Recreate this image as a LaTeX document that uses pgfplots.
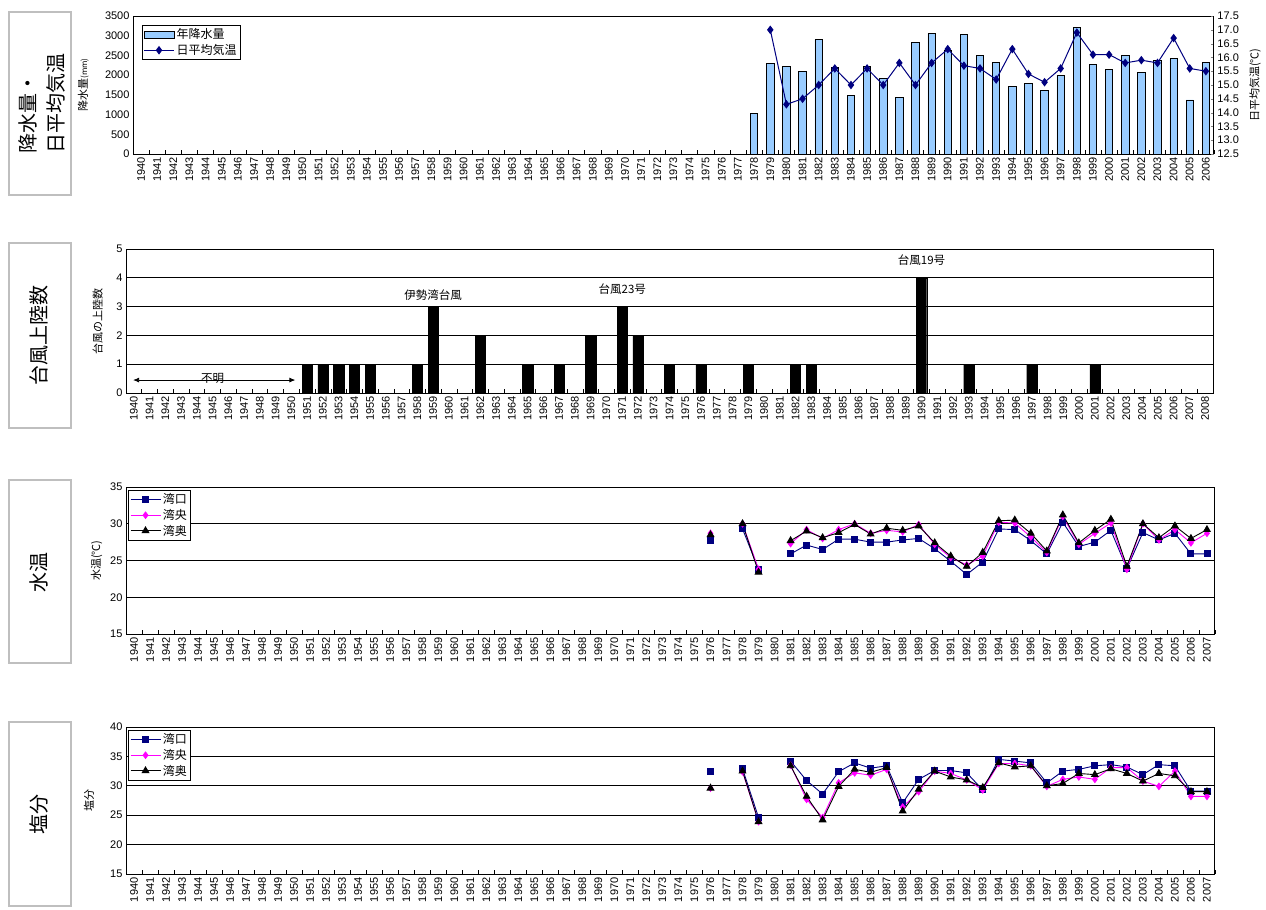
\documentclass[border=0pt]{standalone}
\usepackage{pgfplots}
\pgfplotsset{compat=1.18}
\usetikzlibrary{arrows.meta}
\usepackage{fontspec}
\setmainfont{Liberation Sans}
\newfontfamily\cjk{Noto Sans CJK JP}
\definecolor{barblue}{RGB}{153,204,255}
\definecolor{navyc}{RGB}{0,0,128}
\definecolor{magc}{RGB}{255,0,255}
\newcommand\tickfont{\fontsize{11bp}{12bp}\selectfont}
\newcommand\labfont{\fontsize{11bp}{12bp}\selectfont\cjk}
\newcommand\boxfont{\fontsize{20bp}{28bp}\selectfont\cjk}
\pgfplotsset{
  base/.style={
    scale only axis,
    axis line style={line width=1bp},
    /pgf/number format/assume math mode=true,
    /pgf/number format/1000 sep={},
    tick label style={font=\tickfont},
    xticklabel={\pgfmathprintnumber[fixed,precision=0,1000 sep={}]{\tick}},
    xticklabel style={rotate=90, anchor=east},
    major tick length=0bp,
    minor tick length=4bp,
    minor x tick style={black, line width=0.6bp},
    tick align=inside,
    major grid style={black, line width=0.7bp},
    legend cell align=left,
    legend style={font=\fontsize{12bp}{13bp}\selectfont\cjk, draw=black, line width=0.8bp, inner sep=1.5bp, row sep=0bp},
    legend image code/.code={\draw[mark repeat=2,mark phase=2,##1] plot coordinates {(0bp,0bp) (15bp,0bp) (30bp,0bp)};},
  },
  kou/.style={navyc, line width=0.9bp, mark=square*, mark size=3bp, mark options={fill=navyc, draw=navyc}},
  ou/.style={magc, line width=0.9bp, mark=diamond*, mark size=3.2bp, mark options={fill=magc, draw=magc}},
  oku/.style={black, line width=0.9bp, mark=triangle*, mark size=3.8bp, mark options={fill=black, draw=black}},
}
\begin{document}
\begin{tikzpicture}
\useasboundingbox (0,0) rectangle (1266bp,-910bp);
% side boxes
\draw[black!25, line width=2bp] (9bp,-12bp) rectangle (71bp,-195bp);
\node[rotate=90, align=left, font=\boxfont] at (42bp,-103bp) {降水量・\\日平均気温};
\draw[black!25, line width=2bp] (9bp,-243bp) rectangle (71bp,-428bp);
\node[rotate=90, font=\boxfont] at (39bp,-335bp) {台風上陸数};
\draw[black!25, line width=2bp] (9bp,-480bp) rectangle (71bp,-663bp);
\node[rotate=90, font=\boxfont] at (39bp,-572bp) {水温};
\draw[black!25, line width=2bp] (9bp,-722bp) rectangle (71bp,-906bp);
\node[rotate=90, font=\boxfont] at (39bp,-814bp) {塩分};

% ---------- Panel 1: precipitation ----------
\begin{axis}[base, at={(133bp,-154bp)}, anchor=south west,
  width=1081bp, height=138bp,
  xmin=1939.5, xmax=2006.5, ymin=0, ymax=3500,
  xtick={1940,...,2006}, minor xtick={1939.5,1940.5,...,2006.5},
  ytick={0,500,...,3500},
  axis y line*=left, xtick pos=bottom,
  ylabel={\labfont 降水量{\fontsize{8bp}{9bp}\selectfont (mm)}},
  ylabel style={at={(axis description cs:-0.046,0.5)}, anchor=center},
  legend style={at={(0.008,0.935)}, anchor=north west},
]
\addplot[ybar, bar width=0.46, fill=barblue, draw=black, line width=0.8bp,
  legend image code/.code={\draw[fill=barblue, draw=black, line width=0.8bp] (0bp,-3.5bp) rectangle (30bp,3.5bp);}]
  coordinates {
  (1978,1020) (1979,2300) (1980,2210) (1981,2100) (1982,2910) (1983,2190)
  (1984,1480) (1985,2210) (1986,1920) (1987,1430) (1988,2820) (1989,3050)
  (1990,2640) (1991,3030) (1992,2490) (1993,2330) (1994,1720) (1995,1780)
  (1996,1610) (1997,2000) (1998,3200) (1999,2270) (2000,2150) (2001,2490)
  (2002,2060) (2003,2380) (2004,2420) (2005,1370) (2006,2330)
  };
\addlegendentry{年降水量}
\addlegendimage{navyc, line width=1bp, mark=diamond*, mark size=3.5bp}
\addlegendentry{日平均気温}
\end{axis}
\begin{axis}[base, at={(133bp,-154bp)}, anchor=south west,
  width=1081bp, height=138bp,
  xmin=1939.5, xmax=2006.5, ymin=12.5, ymax=17.5,
  axis x line=none, axis y line*=right,
  ytick pos=right, yticklabel pos=right,
  major tick length=3bp,
  ytick={12.5,13,13.5,14,14.5,15,15.5,16,16.5,17,17.5},
  yticklabel style={/pgf/number format/.cd, fixed, fixed zerofill, precision=1},
  ylabel={\labfont 日平均気温(℃)},
  ylabel style={at={(axis description cs:1.038,0.5)}, anchor=center},
]
\addplot[navyc, line width=1bp, mark=diamond*, mark size=3.5bp] coordinates {
  (1979,17.0) (1980,14.3) (1981,14.5) (1982,15.0) (1983,15.6) (1984,15.0)
  (1985,15.6) (1986,15.0) (1987,15.8) (1988,15.0) (1989,15.8) (1990,16.3)
  (1991,15.7) (1992,15.6) (1993,15.2) (1994,16.3) (1995,15.4) (1996,15.1)
  (1997,15.6) (1998,16.9) (1999,16.1) (2000,16.1) (2001,15.8) (2002,15.9)
  (2003,15.8) (2004,16.7) (2005,15.6) (2006,15.5)
  };
\end{axis}

% ---------- Panel 2: typhoons ----------
\begin{axis}[base, at={(126bp,-393bp)}, anchor=south west,
  width=1087bp, height=144bp, tick pos=left,
  xmin=1939.5, xmax=2008.5, ymin=0, ymax=5,
  xtick={1940,...,2008}, minor xtick={1939.5,1940.5,...,2008.5},
  ytick={0,...,5}, ymajorgrids,
  ylabel={\labfont 台風の上陸数},
  ylabel style={at={(axis description cs:-0.026,0.5)}, anchor=center},
]
\addplot[ybar, bar width=0.65, fill=black, draw=black] coordinates {
  (1951,1) (1952,1) (1953,1) (1954,1) (1955,1) (1958,1) (1959,3)
  (1962,2) (1965,1) (1967,1) (1969,2) (1971,3) (1972,2) (1974,1)
  (1976,1) (1979,1) (1982,1) (1983,1) (1990,4) (1993,1) (1997,1) (2001,1)
  };
\node[anchor=south, font=\fontsize{11.5bp}{13bp}\selectfont\cjk] at (axis cs:1959,3.08) {伊勢湾台風};
\node[anchor=south, font=\fontsize{11.5bp}{13bp}\selectfont\cjk] at (axis cs:1971,3.3) {台風23号};
\node[anchor=south, font=\fontsize{11.5bp}{13bp}\selectfont\cjk] at (axis cs:1990,4.3) {台風19号};
\draw[{Latex[length=6bp,width=5bp]}-{Latex[length=6bp,width=5bp]}, line width=0.8bp]
  (axis cs:1939.95,0.45) -- (axis cs:1950.25,0.45);
\node[font=\fontsize{11.5bp}{13bp}\selectfont\cjk] at (axis cs:1945,0.5) {不明};
\end{axis}

% ---------- Panel 3: water temperature ----------
\begin{axis}[base, at={(126bp,-634bp)}, anchor=south west,
  width=1089bp, height=147bp, tick pos=left,
  xmin=1939.5, xmax=2007.5, ymin=15, ymax=35,
  xtick={1940,...,2007}, minor xtick={1939.5,1940.5,...,2007.5},
  ytick={15,20,...,35}, ymajorgrids,
  unbounded coords=jump,
  ylabel={\labfont 水温(℃)},
  ylabel style={at={(axis description cs:-0.027,0.5)}, anchor=center},
  legend style={at={(0.002,0.98)}, anchor=north west},
]
\addplot[kou] coordinates {
  (1976,27.7) (1977,nan) (1978,29.3) (1979,23.8) (1980,nan) (1981,25.9)
  (1982,27.1) (1983,26.5) (1984,27.9) (1985,27.9) (1986,27.5) (1987,27.5)
  (1988,27.8) (1989,28.0) (1990,26.6) (1991,24.9) (1992,23.1) (1993,24.8)
  (1994,29.3) (1995,29.2) (1996,27.7) (1997,25.9) (1998,30.2) (1999,26.9)
  (2000,27.5) (2001,29.1) (2002,23.9) (2003,28.8) (2004,27.8) (2005,28.7)
  (2006,25.9) (2007,25.9)
  };
\addlegendentry{湾口}
\addplot[ou] coordinates {
  (1976,28.7) (1977,nan) (1978,30.0) (1979,23.8) (1980,nan) (1981,27.3)
  (1982,29.2) (1983,28.0) (1984,29.2) (1985,30.0) (1986,28.7) (1987,29.1)
  (1988,28.9) (1989,29.9) (1990,27.2) (1991,25.4) (1992,24.4) (1993,25.6)
  (1994,30.2) (1995,30.1) (1996,28.2) (1997,26.1) (1998,31.0) (1999,27.2)
  (2000,28.7) (2001,30.1) (2002,23.8) (2003,30.0) (2004,27.8) (2005,29.2)
  (2006,27.4) (2007,28.7)
  };
\addlegendentry{湾央}
\addplot[oku] coordinates {
  (1976,28.5) (1977,nan) (1978,30.0) (1979,23.4) (1980,nan) (1981,27.7)
  (1982,29.0) (1983,28.1) (1984,28.8) (1985,29.9) (1986,28.6) (1987,29.4)
  (1988,29.1) (1989,29.7) (1990,27.4) (1991,25.6) (1992,24.2) (1993,26.1)
  (1994,30.4) (1995,30.5) (1996,28.7) (1997,26.3) (1998,31.2) (1999,27.4)
  (2000,29.1) (2001,30.6) (2002,24.2) (2003,30.0) (2004,28.1) (2005,29.7)
  (2006,28.0) (2007,29.2)
  };
\addlegendentry{湾奥}
\end{axis}

% ---------- Panel 4: salinity ----------
\begin{axis}[base, at={(126bp,-874bp)}, anchor=south west,
  width=1089bp, height=147bp, tick pos=left,
  xmin=1939.5, xmax=2007.5, ymin=15, ymax=40,
  xtick={1940,...,2007}, minor xtick={1939.5,1940.5,...,2007.5},
  ytick={15,20,...,40}, ymajorgrids,
  unbounded coords=jump,
  ylabel={\labfont 塩分},
  ylabel style={at={(axis description cs:-0.034,0.5)}, anchor=center},
  legend style={at={(0.002,0.98)}, anchor=north west},
]
\addplot[kou] coordinates {
  (1976,32.4) (1977,nan) (1978,32.9) (1979,24.6) (1980,nan) (1981,34.2)
  (1982,30.9) (1983,28.6) (1984,32.4) (1985,33.9) (1986,33.0) (1987,33.4)
  (1988,27.1) (1989,31.1) (1990,32.6) (1991,32.6) (1992,32.2) (1993,29.3)
  (1994,34.5) (1995,34.2) (1996,33.9) (1997,30.5) (1998,32.5) (1999,32.8)
  (2000,33.4) (2001,33.6) (2002,33.2) (2003,31.9) (2004,33.6) (2005,33.4)
  (2006,29.1) (2007,29.1)
  };
\addlegendentry{湾口}
\addplot[ou] coordinates {
  (1976,29.6) (1977,nan) (1978,32.4) (1979,23.9) (1980,nan) (1981,33.5)
  (1982,27.7) (1983,24.6) (1984,30.5) (1985,32.2) (1986,31.8) (1987,32.8)
  (1988,26.4) (1989,29.0) (1990,32.5) (1991,32.1) (1992,31.0) (1993,29.3)
  (1994,33.8) (1995,33.8) (1996,33.4) (1997,29.9) (1998,31.1) (1999,31.5)
  (2000,31.1) (2001,33.1) (2002,33.1) (2003,30.8) (2004,29.9) (2005,32.5)
  (2006,28.2) (2007,28.2)
  };
\addlegendentry{湾央}
\addplot[oku] coordinates {
  (1976,29.6) (1977,nan) (1978,32.5) (1979,23.9) (1980,nan) (1981,33.4)
  (1982,28.2) (1983,24.2) (1984,29.9) (1985,32.8) (1986,32.3) (1987,33.1)
  (1988,25.7) (1989,29.4) (1990,32.5) (1991,31.5) (1992,31.0) (1993,29.7)
  (1994,33.9) (1995,33.2) (1996,33.4) (1997,30.0) (1998,30.4) (1999,32.1)
  (2000,31.9) (2001,32.9) (2002,32.1) (2003,30.8) (2004,32.1) (2005,31.7)
  (2006,29.0) (2007,29.0)
  };
\addlegendentry{湾奥}
\end{axis}
\end{tikzpicture}
\end{document}
